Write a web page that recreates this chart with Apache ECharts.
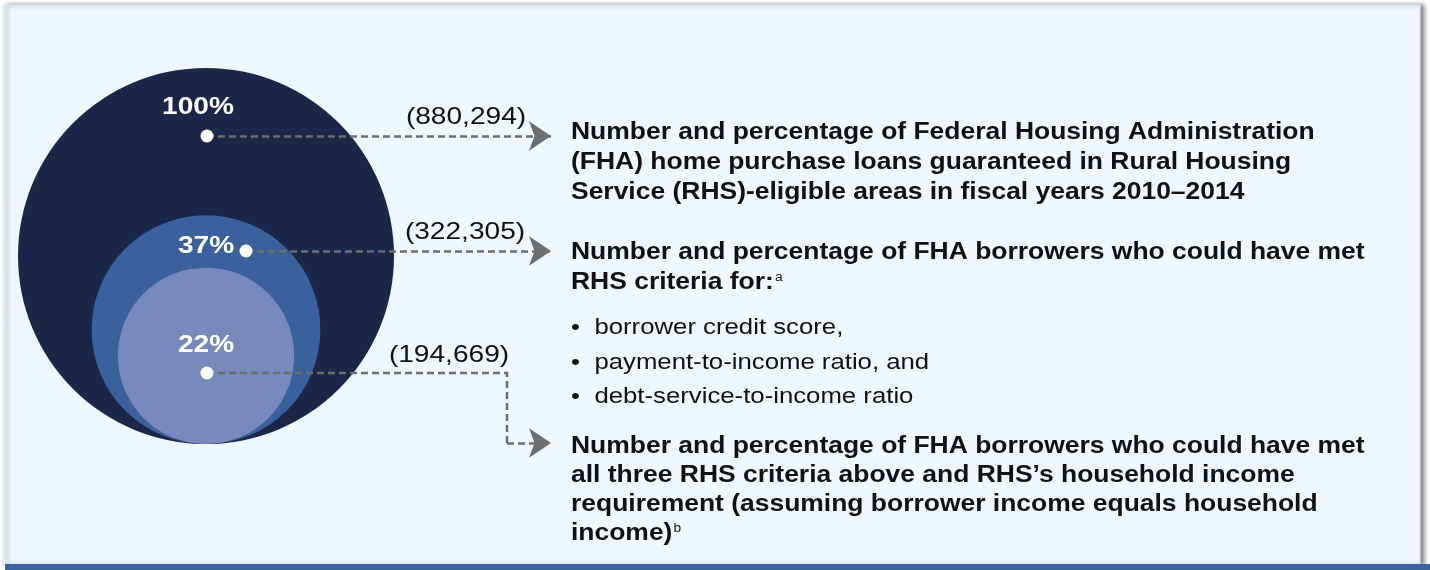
<!DOCTYPE html>
<html>
<head>
<meta charset="utf-8">
<script src="https://cdn.jsdelivr.net/npm/echarts@6/dist/echarts.min.js"></script>
<style>
  html, body { margin: 0; padding: 0; background: #fff; }
  #chart { width: 1430px; height: 570px; }
</style>
</head>
<body>
<div id="chart"></div>
<script>
  // data
  var shares = [100, 37, 22];                 // percent of FHA loans
  var shareLabels = ['100%', '37%', '22%'];
  var counts = [880294, 322305, 194669];      // number of loans

  var descTotal = [
    'Number and percentage of Federal Housing Administration',
    '(FHA) home purchase loans guaranteed in Rural Housing',
    'Service (RHS)-eligible areas in fiscal years 2010\u20132014'
  ];
  var descCriteria = [
    'Number and percentage of FHA borrowers who could have met',
    'RHS criteria for:'
  ];
  var criteriaItems = [
    'borrower credit score,',
    'payment-to-income ratio, and',
    'debt-service-to-income ratio'
  ];
  var descIncome = [
    'Number and percentage of FHA borrowers who could have met',
    'all three RHS criteria above and RHS\u2019s household income',
    'requirement (assuming borrower income equals household',
    'income)'
  ];
  var noteMarks = ['a', 'b'];

  // layout (pixels, axes are 1:1 with the canvas)
  var W = 1430, H = 570;
  var baseX = 206, baseY = 444, outerR = 188;
  var circleColors = ['#1b2749', '#3a609d', '#7889bb'];
  var dotPos = [[207, 136], [246, 251], [207, 373]];
  var pctPos = [[198, 107], [206, 246], [206, 345]];
  var countPos = [[466, 117], [465, 232], [449, 355]];
  var arrowEndX = 551, elbowX = 507, elbowY = 443;
  var FONT = '"Liberation Sans", Arial, sans-serif';
  var SX = 1.17;  // text in the figure is a bit wider than Arial
  var SXD = 1.15; // same for the description blocks

  var chart = echarts.init(document.getElementById('chart'));

  function radiusOf(pct) {
    return outerR * Math.sqrt(pct / 100); // circle area ~ share
  }

  var circleSeries = {
    type: 'custom',
    coordinateSystem: 'cartesian2d',
    silent: true,
    z: 2,
    data: shares.map(function (s, i) { return [i, s]; }),
    renderItem: function (params, api) {
      var r = radiusOf(api.value(1));
      var c = api.coord([baseX, baseY - r]);
      var rPx = api.size([r, 0])[0];
      return {
        type: 'circle',
        shape: {cx: c[0], cy: c[1], r: rPx},
        style: {fill: circleColors[params.dataIndex]}
      };
    }
  };

  var markerSeries = {
    type: 'custom',
    coordinateSystem: 'cartesian2d',
    silent: true,
    z: 5,
    data: counts.map(function (n, i) { return [i, n]; }),
    renderItem: function (params, api) {
      var i = params.dataIndex;
      var d = api.coord(dotPos[i]);
      var p = api.coord(pctPos[i]);
      var t = api.coord(countPos[i]);
      return {
        type: 'group',
        children: [
          {type: 'circle', shape: {cx: d[0], cy: d[1], r: 6.5}, style: {fill: '#fff'}},
          {
            type: 'text', x: p[0], y: p[1], scaleX: SX,
            style: {
              text: shareLabels[i], fill: '#fff', fontFamily: FONT,
              fontSize: 24, fontWeight: 'bold', align: 'center', verticalAlign: 'middle'
            }
          },
          {
            type: 'text', x: t[0], y: t[1], scaleX: SX,
            style: {
              text: '(' + api.value(1).toLocaleString('en-US') + ')', fill: '#111',
              fontFamily: FONT, fontSize: 24, align: 'center', verticalAlign: 'middle'
            }
          }
        ]
      };
    }
  };

  var dashStyle = {color: '#6e6e6e', width: 2.5, type: [7, 4], opacity: 1, curveness: 0};

  var arrowSeries = {
    type: 'lines',
    coordinateSystem: 'cartesian2d',
    silent: true,
    z: 4,
    symbol: ['none', 'arrow'],
    symbolSize: [18, 22],
    lineStyle: dashStyle,
    data: [
      {coords: [dotPos[0], [arrowEndX, dotPos[0][1]]]},
      {coords: [dotPos[1], [arrowEndX, dotPos[1][1]]]},
      {coords: [[elbowX, elbowY], [arrowEndX, elbowY]]}
    ]
  };

  var elbowSeries = {
    type: 'lines',
    coordinateSystem: 'cartesian2d',
    polyline: true,
    silent: true,
    z: 4,
    lineStyle: dashStyle,
    data: [{coords: [dotPos[2], [elbowX, dotPos[2][1]], [elbowX, elbowY]]}]
  };

  function textBlock(lines, y, lh, sup) {
    var txt = lines.map(function (l) { return '{m|' + l + '}'; }).join('\n');
    if (sup) txt += '{s|' + sup + '}';
    return {
      type: 'text', x: 571, y: y, scaleX: SXD,
      style: {
        text: txt, fill: '#111', verticalAlign: 'top',
        rich: {
          m: {fontFamily: FONT, fontSize: 23, fontWeight: 'bold', lineHeight: lh, fill: '#111'},
          s: {fontFamily: FONT, fontSize: 12, lineHeight: lh, verticalAlign: 'top', fill: '#111', padding: [4, 0, 0, 1]}
        }
      }
    };
  }

  var bulletBlock = {
    type: 'text', x: 571, y: 311, scaleX: SX,
    style: {
      text: criteriaItems.map(function (l) { return '{b|\u2022}{m|' + l + '}'; }).join('\n'),
      verticalAlign: 'top',
      rich: {
        b: {fontFamily: FONT, fontSize: 22, width: 20, lineHeight: 34.5, fill: '#111'},
        m: {fontFamily: FONT, fontSize: 22, lineHeight: 34.5, fill: '#111'}
      }
    }
  };

  chart.setOption({
    animation: false,
    grid: {left: 0, right: 0, top: 0, bottom: 0},
    xAxis: {type: 'value', min: 0, max: W, show: false},
    yAxis: {type: 'value', min: 0, max: H, inverse: true, show: false},
    graphic: [
      {
        type: 'rect', z: 0, shape: {x: 3, y: 5, width: 1417, height: 560},
        style: {fill: '#eef6fe', stroke: '#e3e8ee', lineWidth: 1,
                shadowColor: 'rgba(0,0,0,0.45)', shadowBlur: 4, shadowOffsetX: 4, shadowOffsetY: 0}
      },
      {type: 'rect', z: 1, shape: {x: 5, y: 564, width: 1425, height: 6}, style: {fill: '#3b63a0'}},
      textBlock(descTotal, 118, 30),
      textBlock(descCriteria, 238, 30, noteMarks[0]),
      bulletBlock,
      textBlock(descIncome, 432, 29, noteMarks[1])
    ],
    series: [circleSeries, elbowSeries, arrowSeries, markerSeries]
  });
</script>
</body>
</html>
